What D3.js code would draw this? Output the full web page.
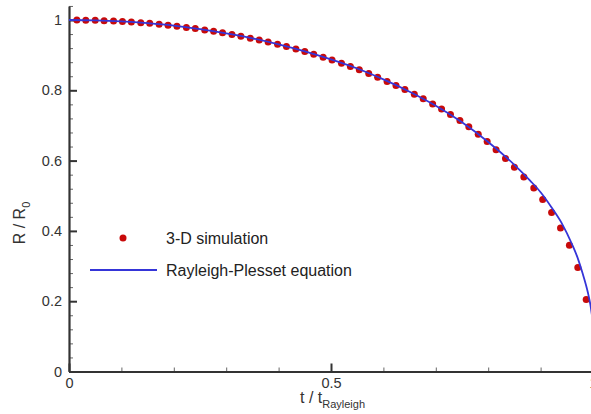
<!DOCTYPE html>
<html>
<head>
<meta charset="utf-8">
<script src="https://cdn.jsdelivr.net/npm/d3@7"></script>
<style>
  body { margin: 0; background: #fff; }
  svg { display: block; font-family: "Liberation Sans", Arial, sans-serif; }
</style>
</head>
<body>
<div id="chart"></div>
<script>
// 3-D simulation points (t / tRayleigh, R / R0)
var simT = [ 0.015, 0.032, 0.050, 0.067, 0.085, 0.102, 0.119, 0.137, 0.154, 0.172,
	0.189, 0.206, 0.224, 0.241, 0.259, 0.276, 0.293, 0.311, 0.328, 0.346,
	0.363, 0.380, 0.398, 0.415, 0.433, 0.450, 0.467, 0.485, 0.502, 0.520,
	0.537, 0.554, 0.572, 0.589, 0.607, 0.624, 0.641, 0.659, 0.676, 0.694,
	0.711, 0.728, 0.746, 0.763, 0.781, 0.798, 0.815, 0.833, 0.850, 0.868,
	0.887, 0.904, 0.921, 0.938, 0.955, 0.971, 0.987 ];
var simR = [ 1.000, 0.9996, 0.9990, 0.9982, 0.9971, 0.9958, 0.9943, 0.9925, 0.9904, 0.9878,
	0.9852, 0.9823, 0.9790, 0.9756, 0.9717, 0.9677, 0.9635, 0.9590, 0.9537, 0.9483,
	0.9428, 0.9372, 0.9309, 0.9245, 0.9172, 0.9102, 0.9026, 0.8941, 0.8859, 0.8769,
	0.8677, 0.8582, 0.8477, 0.8370, 0.8253, 0.8140, 0.8021, 0.7889, 0.7761, 0.7613,
	0.7467, 0.7308, 0.7138, 0.6960, 0.6750, 0.6540, 0.6310, 0.6060, 0.5810, 0.5530,
	0.522, 0.489, 0.452, 0.408, 0.359, 0.296, 0.205 ];

// Rayleigh-Plesset curve
var rpT = [ 0, 0.05, 0.1, 0.15, 0.2, 0.25, 0.3, 0.35, 0.4, 0.45, 0.5, 0.55, 0.6, 0.65,
	0.7, 0.75, 0.8, 0.85, 0.88, 0.9, 0.92, 0.94, 0.96, 0.97, 0.98, 0.99, 0.995,
	0.998, 1.0, 1.003, 1.0043 ];
var rpR = [ 1.0, 0.999, 0.996, 0.991, 0.984, 0.974, 0.962, 0.948, 0.931, 0.911, 0.888,
	0.862, 0.831, 0.796, 0.756, 0.709, 0.653, 0.588, 0.543, 0.510, 0.469, 0.423,
	0.362, 0.326, 0.280, 0.226, 0.190, 0.160, 0.139, 0.080, 0 ];

var yMajor = [ 0, 0.2, 0.4, 0.6, 0.8, 1 ];
var yMinor = [ 0.04, 0.08, 0.12, 0.16, 0.24, 0.28, 0.32, 0.36, 0.44, 0.48, 0.52, 0.56,
	0.64, 0.68, 0.72, 0.76, 0.84, 0.88, 0.92, 0.96, 1.04 ];
var xMajor = [ 0, 0.5, 1 ];
var xMinor = [ 0.1, 0.2, 0.3, 0.4, 0.6, 0.7, 0.8, 0.9 ];

var width = 591, height = 414;
var svg = d3.select( '#chart' ).append( 'svg' )
	.attr( 'width', width )
	.attr( 'height', height );

var xScale = d3.scaleLinear().domain( [ 0, 1 ] ).range( [ 69, 593 ] );
var yScale = d3.scaleLinear().domain( [ 0, 1.04 ] ).range( [ 371.5, 371.5 - 1.04 * 351.5 ] );

var axisColor = '#333';

// minor ticks
svg.append( 'g' )
	.attr( 'class', 'yminor' )
	.attr( 'transform', 'translate(' + xScale( 0 ) + ',0)' )
	.call( d3.axisLeft( yScale ).tickValues( yMinor ).tickSize( -4 ).tickSizeOuter( 0 ).tickFormat( '' ) );

svg.append( 'g' )
	.attr( 'class', 'xminor' )
	.attr( 'transform', 'translate(0,' + yScale( 0 ) + ')' )
	.call( d3.axisBottom( xScale ).tickValues( xMinor ).tickSize( -4 ).tickSizeOuter( 0 ).tickFormat( '' ) );

// major axes
svg.append( 'g' )
	.attr( 'class', 'ymajor' )
	.attr( 'transform', 'translate(' + xScale( 0 ) + ',0)' )
	.call( d3.axisLeft( yScale ).tickValues( yMajor ).tickSize( -8 ).tickSizeOuter( 0 ).tickPadding( 7 )
		.tickFormat( d3.format( '' ) ) );

svg.append( 'g' )
	.attr( 'class', 'xmajor' )
	.attr( 'transform', 'translate(0,' + yScale( 0 ) + ')' )
	.call( d3.axisBottom( xScale ).tickValues( xMajor ).tickSize( -8 ).tickSizeOuter( 0 ).tickPadding( 6 )
		.tickFormat( d3.format( '' ) ) );

svg.selectAll( '.yminor line, .xminor line' )
	.attr( 'stroke', '#666' )
	.attr( 'stroke-width', 1 );
svg.selectAll( '.yminor path, .xminor path' ).remove();

svg.selectAll( '.ymajor line, .xmajor line' )
	.attr( 'stroke', axisColor )
	.attr( 'stroke-width', 2 );
svg.selectAll( '.ymajor path, .xmajor path' )
	.attr( 'stroke', axisColor )
	.attr( 'stroke-width', 2.2 );
svg.selectAll( '.ymajor text, .xmajor text' )
	.attr( 'font-size', '14.5px' )
	.attr( 'fill', '#333' )
	.attr( 'font-family', '"Liberation Sans", Arial, sans-serif' );

// simulation dots
svg.append( 'g' )
	.selectAll( 'circle' )
	.data( simT )
	.enter()
	.append( 'circle' )
	.attr( 'cx', function( d ) { return xScale( d ); } )
	.attr( 'cy', function( d, i ) { return yScale( simR[ i ] ); } )
	.attr( 'r', 3.5 )
	.attr( 'fill', '#c80a0a' );

// Rayleigh-Plesset line
var line = d3.line()
	.x( function( d ) { return xScale( d ); } )
	.y( function( d, i ) { return yScale( rpR[ i ] ); } )
	.curve( d3.curveMonotoneX );

svg.append( 'path' )
	.datum( rpT )
	.attr( 'd', line )
	.attr( 'fill', 'none' )
	.attr( 'stroke', '#3535d8' )
	.attr( 'stroke-width', 1.8 );

// axis titles
var xTitle = svg.append( 'text' )
	.attr( 'x', 300 )
	.attr( 'y', 403 )
	.attr( 'font-size', '16px' )
	.attr( 'fill', '#333' );
xTitle.append( 'tspan' ).text( 't / t' );
xTitle.append( 'tspan' ).attr( 'font-size', '11px' ).attr( 'dy', 5 ).text( 'Rayleigh' );

var yTitle = svg.append( 'text' )
	.attr( 'transform', 'translate(25,223) rotate(-90)' )
	.attr( 'text-anchor', 'middle' )
	.attr( 'font-size', '16px' )
	.attr( 'fill', '#333' );
yTitle.append( 'tspan' ).text( 'R / R' );
yTitle.append( 'tspan' ).attr( 'font-size', '11px' ).attr( 'dy', 5 ).text( '0' );

// legend
var legend = svg.append( 'g' ).attr( 'class', 'legend' );
legend.append( 'circle' )
	.attr( 'cx', 123 )
	.attr( 'cy', 238 )
	.attr( 'r', 3.5 )
	.attr( 'fill', '#c80a0a' );
legend.append( 'text' )
	.attr( 'x', 166 )
	.attr( 'y', 238 )
	.attr( 'dy', '0.35em' )
	.attr( 'font-size', '16px' )
	.attr( 'fill', '#222' )
	.text( '3-D simulation' );
legend.append( 'line' )
	.attr( 'x1', 90 )
	.attr( 'x2', 157 )
	.attr( 'y1', 270 )
	.attr( 'y2', 270 )
	.attr( 'stroke', '#3535d8' )
	.attr( 'stroke-width', 2 );
legend.append( 'text' )
	.attr( 'x', 166 )
	.attr( 'y', 270 )
	.attr( 'dy', '0.35em' )
	.attr( 'font-size', '16px' )
	.attr( 'fill', '#222' )
	.text( 'Rayleigh-Plesset equation' );
</script>
</body>
</html>
